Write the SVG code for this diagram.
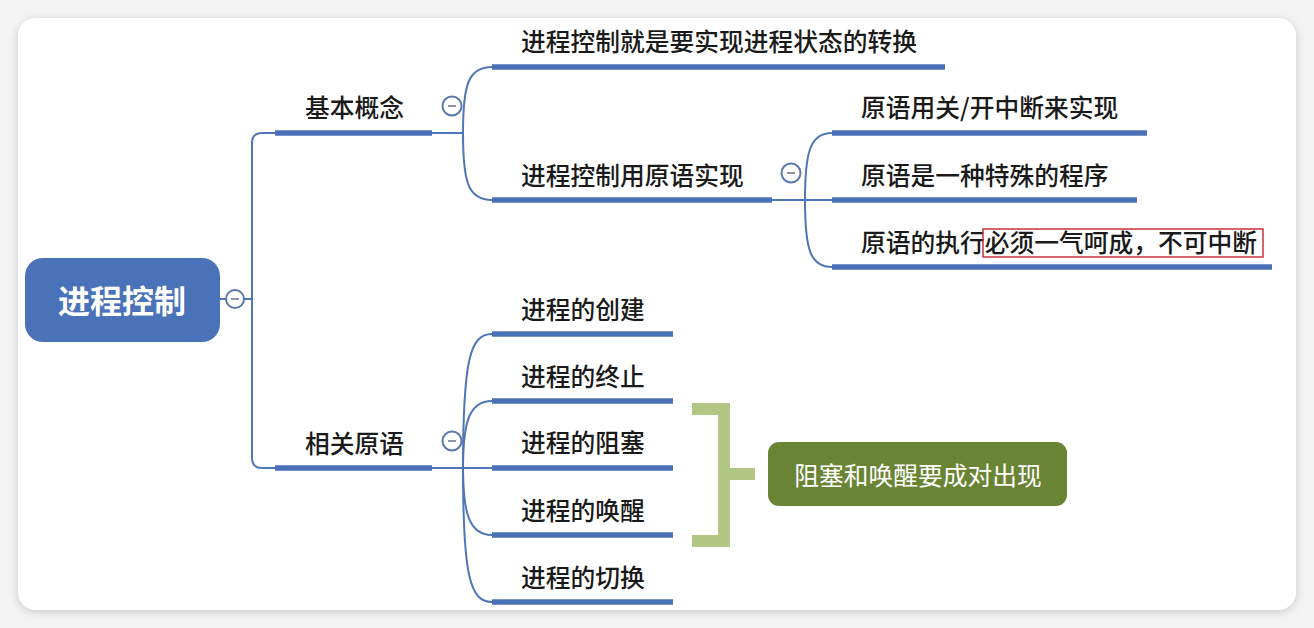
<svg xmlns="http://www.w3.org/2000/svg" width="1314" height="628" viewBox="0 0 1314 628">
<defs>
<filter id="sh" x="-5%" y="-5%" width="110%" height="115%">
<feDropShadow dx="0" dy="2" stdDeviation="5" flood-color="#000" flood-opacity="0.18"/>
</filter>
<style>
.t{font-family:"Noto Sans CJK SC","Noto Sans",sans-serif;font-size:24.75px;font-weight:500;fill:#1a1a1a;dominant-baseline:central}
.bar{stroke:#4a71b6;stroke-width:5.5;fill:none}
.c{stroke:#4f76b8;stroke-width:2;fill:none}
.col circle{fill:#fff;stroke:#5b78ad;stroke-width:2}
.col line{stroke:#8a94aa;stroke-width:2}
</style>
</defs>
<rect x="0" y="0" width="1314" height="628" fill="#f4f4f4"/>
<rect x="18" y="18" width="1278" height="592" rx="18" fill="#fff" filter="url(#sh)"/>

<g id="connectors">
<path class="c" d="M220,299 H226 M244,299 H252"/>
<path class="c" d="M275,133 H262 Q252,133 252,143 V458 Q252,468 262,468 H275"/>
<path class="c" d="M432,133 H463"/>
<path class="c" d="M463,133 C463,85 468,67 492,67"/>
<path class="c" d="M463,133 C463,182 468,200 492,200"/>
<path class="c" d="M772,200 H832"/>
<path class="c" d="M805,200 C805,152 810,133 832,133"/>
<path class="c" d="M805,200 C805,249 810,267 832,267"/>
<path class="c" d="M432,468 H492"/>
<path class="c" d="M463,468 C463,360 470,334 492,334"/>
<path class="c" d="M463,468 C463,420 470,401 492,401"/>
<path class="c" d="M463,468 C463,515 470,535 492,535"/>
<path class="c" d="M463,468 C463,576 470,602 492,602"/>
</g>

<g id="root">
<rect x="25" y="258" width="195" height="84" rx="18" fill="#4a72b8"/>
<text x="122" y="299" text-anchor="middle" style="font-family:'Noto Sans CJK SC',sans-serif;font-size:32px;font-weight:700;fill:#fff;dominant-baseline:central">进程控制</text>
</g>
<g id="col-root" class="col"><circle cx="235" cy="299" r="9"/><line x1="231" y1="299" x2="239" y2="299"/></g>

<g id="n-jbgn">
<line class="bar" x1="275" y1="133" x2="432" y2="133"/>
<text class="t" x="305" y="106">基本概念</text>
</g>
<g id="col-jbgn" class="col"><circle cx="452" cy="106" r="9.5"/><line x1="448" y1="106" x2="456" y2="106"/></g>

<g id="n-zh">
<line class="bar" x1="492" y1="67" x2="945" y2="67"/>
<text class="t" x="521" y="40">进程控制就是要实现进程状态的转换</text>
</g>

<g id="n-yysx">
<line class="bar" x1="492" y1="200" x2="772" y2="200"/>
<text class="t" x="521" y="174">进程控制用原语实现</text>
</g>
<g id="col-yysx" class="col"><circle cx="791" cy="173" r="9.5"/><line x1="787" y1="173" x2="795" y2="173"/></g>

<g id="n-y1">
<line class="bar" x1="832" y1="133" x2="1147" y2="133"/>
<text class="t" x="861" y="106">原语用关/开中断来实现</text>
</g>
<g id="n-y2">
<line class="bar" x1="832" y1="200" x2="1137" y2="200"/>
<text class="t" x="861" y="174">原语是一种特殊的程序</text>
</g>
<g id="n-y3">
<line class="bar" x1="832" y1="267" x2="1272" y2="267"/>
<text class="t" x="861" y="241">原语的执行必须一气呵成，不可中断</text>
<rect x="983" y="229" width="280" height="28" fill="none" stroke="#c8323c" stroke-width="1.5"/>
</g>

<g id="n-xgyy">
<line class="bar" x1="275" y1="468" x2="432" y2="468"/>
<text class="t" x="305" y="442">相关原语</text>
</g>
<g id="col-xgyy" class="col"><circle cx="452" cy="441" r="9.5"/><line x1="448" y1="441" x2="456" y2="441"/></g>

<g id="n-cj">
<line class="bar" x1="492" y1="334" x2="673" y2="334"/>
<text class="t" x="521" y="308">进程的创建</text>
</g>
<g id="n-zz">
<line class="bar" x1="492" y1="401" x2="673" y2="401"/>
<text class="t" x="521" y="375">进程的终止</text>
</g>
<g id="n-zs">
<line class="bar" x1="492" y1="468" x2="673" y2="468"/>
<text class="t" x="521" y="441">进程的阻塞</text>
</g>
<g id="n-hx">
<line class="bar" x1="492" y1="535" x2="673" y2="535"/>
<text class="t" x="521" y="509">进程的唤醒</text>
</g>
<g id="n-qh">
<line class="bar" x1="492" y1="602" x2="673" y2="602"/>
<text class="t" x="521" y="576">进程的切换</text>
</g>

<g id="bracket">
<path d="M692,409 H724 V541 H692 M724,474 H755" fill="none" stroke="#b3c785" stroke-width="12"/>
</g>
<g id="n-summary">
<rect x="768" y="442" width="299" height="64" rx="11" fill="#6a8435"/>
<text x="918" y="474" text-anchor="middle" style="font-family:'Noto Sans CJK SC',sans-serif;font-size:24.75px;font-weight:400;fill:#fff;dominant-baseline:central">阻塞和唤醒要成对出现</text>
</g>
</svg>
